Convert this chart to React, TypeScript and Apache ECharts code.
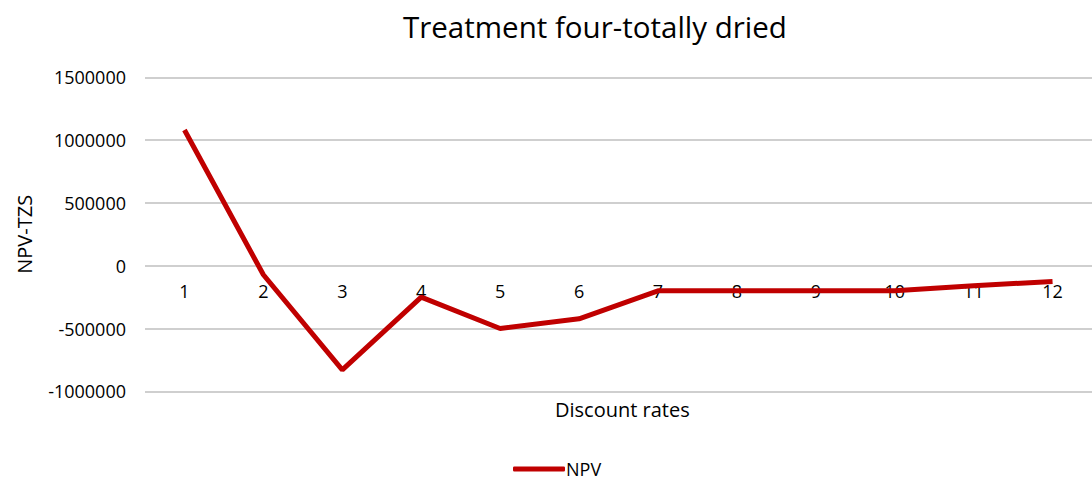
import React, { useEffect, useRef } from "react";
import * as echarts from "echarts";

const categories = ["1", "2", "3", "4", "5", "6", "7", "8", "9", "10", "11", "12"];
const npvValues = [1080000, -72000, -830000, -250000, -500000, -423000, -200000, -200000, -200000, -200000, -160000, -125000];
const yTicks = { min: -1000000, max: 1500000, interval: 500000 };
const titleText = "Treatment four-totally dried";
const xName = "Discount rates";
const yName = "NPV-TZS";
const seriesName = "NPV";

const FONT = "'Open Sans', sans-serif";

export default function App() {
  const ref = useRef<HTMLDivElement>(null);
  useEffect(() => {
    if (!ref.current) return;
    const chart = echarts.init(ref.current, null, { renderer: "svg" });
    chart.setOption({
      animation: false,
      backgroundColor: "#ffffff",
      textStyle: { fontFamily: FONT },
      title: {
        text: titleText,
        left: 398,
        top: 6,
        textStyle: { fontFamily: FONT, fontSize: 29.5, fontWeight: "normal", color: "#000" },
      },
      grid: { left: 145, top: 77.3, width: 960, height: 314 },
      legend: {
        data: [seriesName],
        left: 508,
        top: 458,
        icon: "roundRect",
        itemWidth: 52,
        itemHeight: 5,
        itemGap: 4,
        padding: [2, 5, 0, 5],
        textStyle: { fontFamily: FONT, fontSize: 18, color: "#000", padding: [0, 0, 0, -4] },
      },
      xAxis: {
        type: "category",
        data: categories,
        boundaryGap: true,
        offset: -125.3,
        axisLine: { show: false, onZero: false },
        axisTick: { show: false },
        axisLabel: { color: "#000", fontSize: 18, margin: 16, fontFamily: FONT },
        splitLine: { show: false },
      },
      yAxis: {
        type: "value",
        min: yTicks.min,
        max: yTicks.max,
        interval: yTicks.interval,
        name: yName,
        nameLocation: "middle",
        nameGap: 111,
        nameTextStyle: { fontSize: 20, color: "#000", fontFamily: FONT },
        axisLine: { show: false },
        axisTick: { show: false },
        axisLabel: {
          color: "#000",
          fontSize: 18,
          margin: 19,
          fontFamily: FONT,
          formatter: (v: number) => String(v),
        },
        splitLine: { lineStyle: { color: "#bfbfbf", width: 1.5 } },
      },
      graphic: [
        {
          type: "text",
          left: 555,
          top: 399,
          style: { text: xName, fontSize: 20, fill: "#000", fontFamily: FONT },
        },
      ],
      series: [
        {
          name: seriesName,
          type: "line",
          data: npvValues,
          symbol: "none",
          lineStyle: { color: "#c00000", width: 5 },
          itemStyle: { color: "#c00000" },
        },
      ],
    });
    return () => chart.dispose();
  }, []);
  return (
    <div
      ref={ref}
      style={{ position: "fixed", left: 0, top: 0, width: 1092, height: 482 }}
    />
  );
}
